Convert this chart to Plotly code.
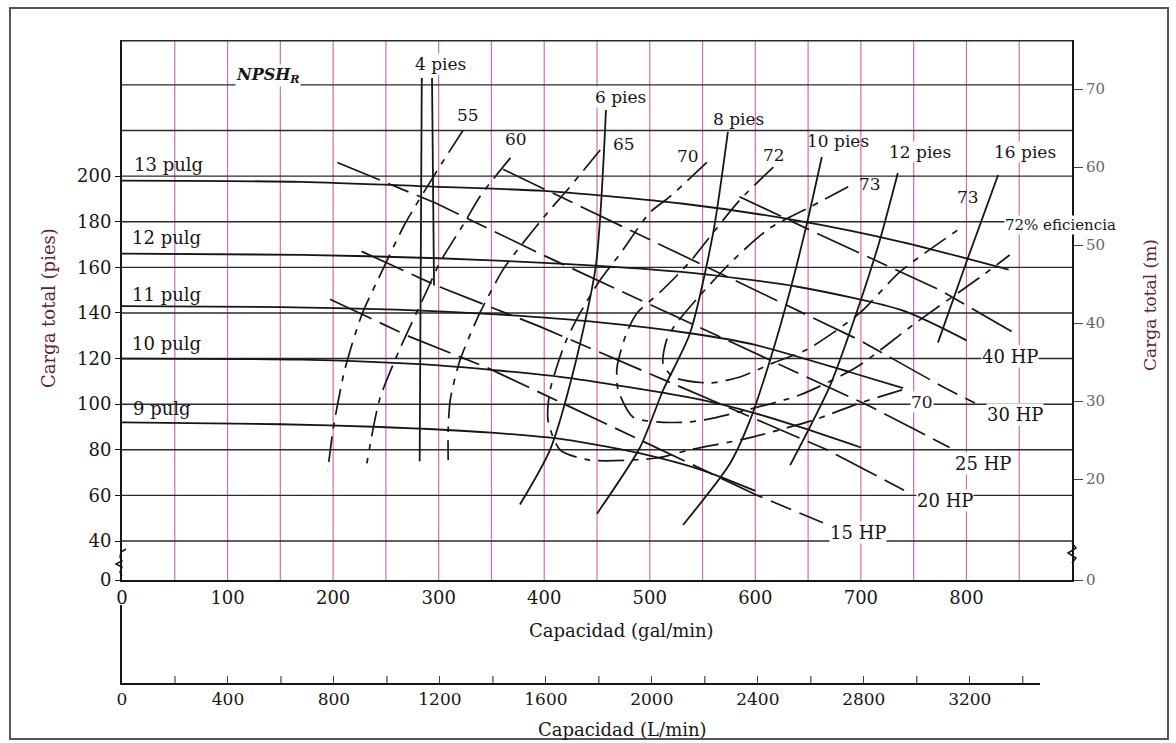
import plotly.graph_objects as go

# ---------------- data (capacity gal/min, head ft) ----------------
# Head-capacity curves, impeller diameters
q_13 = [0, 170, 290, 400, 530, 640, 740, 840]
h_13 = [198, 197.5, 195.5, 193.5, 188, 180.5, 171, 159]
q_12 = [0, 170, 300, 400, 530, 640, 740, 800]
h_12 = [166, 165.5, 164, 162, 158, 151.5, 141, 128]
q_11 = [0, 150, 260, 350, 450, 540, 600, 690, 740]
h_11 = [143, 142.6, 141.5, 139.5, 136, 131, 126, 114, 107]
q_10 = [0, 170, 300, 415, 480, 548, 600, 642, 700]
h_10 = [120, 119.5, 117, 112, 107.5, 102, 96, 90, 81]
q_9 = [0, 150, 245, 350, 420, 490, 550, 600]
h_9 = [92, 91.2, 90, 87.5, 84.5, 78.5, 71, 62]

# Power lines (HP)
q_40hp = [585, 658, 775, 846]
h_40hp = [191, 175, 150, 131]
q_30hp = [361, 415, 699, 778, 808]
h_30hp = [203, 191, 128, 107.5, 100.5]
q_25hp = [204, 298, 396, 709, 784]
h_25hp = [206, 188, 166, 99, 81]
q_20hp = [227, 298, 396, 668, 742]
h_20hp = [167, 152, 134, 80, 62]
q_15hp = [197, 273, 346, 602, 664]
h_15hp = [146, 129.5, 116, 60, 48]

# NPSH required lines (ft)
q_n4a = [284, 282]
h_n4a = [243, 75]
q_n4b = [293.7, 295.6]
h_n4b = [243, 152]
q_n6 = [458.5, 449, 429, 405.5, 377]
h_n6 = [229, 161, 117, 80, 56]
q_n8 = [574, 560, 538, 512.5, 490.7, 450]
h_n8 = [219.4, 175, 131, 106, 81, 52]
q_n10 = [663, 649, 633, 614, 595, 576, 531.5]
h_n10 = [208.4, 179.5, 150, 119.4, 93, 74, 47]
q_n12 = [735, 718, 699, 671, 633]
h_n12 = [201.4, 172, 144.4, 108.4, 73.3]
q_n16 = [830, 800.5, 773]
h_n16 = [200.5, 163, 127]

# Iso-efficiency curves (%)
q_e55 = [323, 298, 268, 247, 227, 211, 200, 195]
h_e55 = [220, 202, 179, 159, 139, 115, 89, 71]
q_e60 = [368, 339, 325, 301, 289, 263, 244, 232]
h_e60 = [208, 191, 180, 162, 150, 124, 102, 74]
q_e65 = [453, 422, 405, 377, 361, 339, 320, 311, 309, 309]
h_e65 = [211.5, 194, 185, 169, 159, 140, 119, 102, 89, 75.5]
q_e70 = [554, 519, 500, 472, 453, 434, 420, 405.5, 403.6, 415, 443, 507, 538, 592, 655, 699, 744]
h_e70 = [206, 191, 184, 166, 154.5, 140, 127, 106, 93, 80, 75.5, 76.4, 80, 85, 93, 100.5, 107]
q_e72 = [617, 585.5, 562, 538, 510, 488, 478, 469, 470, 484, 507, 538, 560, 592, 642, 696, 753, 816, 841]
h_e72 = [204, 189.6, 176.4, 162.4, 149.2, 140, 131.2, 116.3, 106.2, 94.4, 92.2, 92.2, 93.9, 97.5, 104, 116.3, 136, 156.7, 165.4]
q_e73 = [688, 652, 614, 579, 548, 524, 516, 512.5, 522, 557, 585.5, 617, 649, 699, 737, 796]
h_e73 = [195.3, 186.5, 177.3, 163.2, 147.9, 134.7, 128.2, 118.1, 111.9, 109.3, 111.9, 118.1, 124, 140, 158, 177.7]

# Axis ticks
gpm_ticks = [0, 100, 200, 300, 400, 500, 600, 700, 800]
ft_ticks = [40, 60, 80, 100, 120, 140, 160, 180, 200]
m_ticks = [20, 30, 40, 50, 60, 70]
lpm_ticks = [0, 400, 800, 1200, 1600, 2000, 2400, 2800, 3200]
lpm_minor = [200, 600, 1000, 1400, 1800, 2200, 2600, 3000, 3400]

# ---------------- layout geometry ----------------
W, H = 1176, 743
ML, MR, MT, MB = 122, 104, 40, 60
PW = W - ML - MR
PH = H - MT - MB
FT_BREAK = 22.9      # where the broken axis shows "0"
FT_TOP = 259.7
M_BREAK = 7.05
M_TOP = 76.3
SERIF = "DejaVu Serif"
INK = "#161616"
GRIDPINK = "#d26cb6"


def pp(px, py):
    return (px - ML) / PW, (H - MB - py) / PH


fig = go.Figure()


def curve(q, h, width=1.6, dash="solid", shape="spline"):
    fig.add_trace(go.Scatter(
        x=q, y=h, mode="lines", hoverinfo="skip", showlegend=False,
        line=dict(color=INK, width=width, dash=dash, shape=shape, smoothing=0.7)))


for q, h in [(q_13, h_13), (q_12, h_12), (q_11, h_11), (q_10, h_10), (q_9, h_9)]:
    curve(q, h, width=1.8)
for q, h in [(q_40hp, h_40hp), (q_30hp, h_30hp), (q_25hp, h_25hp), (q_20hp, h_20hp), (q_15hp, h_15hp)]:
    curve(q, h, width=1.7, dash="46px,9px,22px,9px", shape="linear")
for q, h in [(q_n4a, h_n4a), (q_n4b, h_n4b), (q_n6, h_n6), (q_n8, h_n8),
             (q_n10, h_n10), (q_n12, h_n12), (q_n16, h_n16)]:
    curve(q, h, width=1.8)
for q, h in [(q_e55, h_e55), (q_e60, h_e60), (q_e65, h_e65), (q_e70, h_e70),
             (q_e72, h_e72), (q_e73, h_e73)]:
    curve(q, h, width=1.7, dash="26px,8px,6px,8px")

# invisible helpers so the secondary axes are drawn
fig.add_trace(go.Scatter(x=[0], y=[M_BREAK], yaxis="y2", mode="markers",
                         marker=dict(opacity=0), hoverinfo="skip", showlegend=False))
fig.add_trace(go.Scatter(x=[0], y=[0], xaxis="x2", yaxis="y3", mode="markers",
                         marker=dict(opacity=0), hoverinfo="skip", showlegend=False))

# grid
shapes = []
for v in range(50, 900, 50):
    shapes.append(dict(type="line", xref="x", yref="y domain", x0=v, x1=v, y0=0, y1=1,
                       line=dict(color=GRIDPINK, width=1.2), layer="below"))
for v in range(40, 261, 20):
    shapes.append(dict(type="line", xref="x", yref="y", x0=0, x1=900, y0=min(v, FT_TOP - 0.3),
                       y1=min(v, FT_TOP - 0.3),
                       line=dict(color="#2a2a2a", width=1.4), layer="below"))

# minor ticks of the L/min scale
for v in lpm_minor:
    shapes.append(dict(type="line", xref="x2", yref="y3 domain", x0=v, x1=v, y0=0, y1=0.09,
                       line=dict(color="#444", width=1.2)))

# outer frame
fx0, fy0 = pp(10, 8)
fx1, fy1 = pp(1168, 739)
shapes.append(dict(type="rect", xref="paper", yref="paper", x0=fx0, x1=fx1, y0=fy1, y1=fy0,
                   line=dict(color="#555555", width=2)))


def polyline(points):
    s = ""
    for i, (a, b) in enumerate(points):
        x, y = pp(a, b)
        s += ("M" if i == 0 else "L") + f"{x:.5f},{y:.5f} "
    return s


shapes.append(dict(type="path", xref="paper", yref="paper",
                   path=polyline([(126, 549), (121, 552), (120, 557), (122, 561), (116, 564),
                                  (122, 567), (120, 572), (122, 576)]),
                   line=dict(color=INK, width=1.5)))
shapes.append(dict(type="path", xref="paper", yref="paper",
                   path=polyline([(1072, 543), (1076, 548), (1068, 553), (1076, 558), (1072, 563)]),
                   line=dict(color=INK, width=1.5)))

fig.update_layout(
    width=W, height=H,
    margin=dict(l=ML, r=MR, t=MT, b=MB, pad=0),
    paper_bgcolor="white", plot_bgcolor="white",
    showlegend=False,
    font=dict(family=SERIF, color=INK),
    shapes=shapes,
    xaxis=dict(range=[0, 900], domain=[0, 1], anchor="y",
               tickvals=gpm_ticks, ticktext=[str(v) for v in gpm_ticks],
               showgrid=False, zeroline=False, showline=True, linecolor=INK, linewidth=2,
               ticks="", tickfont=dict(family=SERIF, size=18, color=INK)),
    yaxis=dict(range=[FT_BREAK, FT_TOP], domain=[(H - MB - 580) / PH, 1], anchor="x",
               tickvals=[FT_BREAK] + ft_ticks, ticktext=["0"] + [str(v) for v in ft_ticks],
               showgrid=False, zeroline=False, showline=True, linecolor=INK, linewidth=2,
               ticks="outside", ticklen=5, tickcolor=INK,
               tickfont=dict(family=SERIF, size=18, color=INK)),
    yaxis2=dict(range=[M_BREAK, M_TOP], overlaying="y", side="right", anchor="x",
                tickvals=[M_BREAK] + m_ticks, ticktext=["0"] + [str(v) for v in m_ticks],
                showgrid=False, zeroline=False, showline=True, linecolor=INK, linewidth=2,
                ticks="outside", ticklen=9, tickcolor="#444",
                tickfont=dict(family=SERIF, size=15, color="#666")),
    xaxis2=dict(range=[0, 3464], domain=[0, 0.966], anchor="y3",
                tickvals=lpm_ticks, ticktext=[str(v) for v in lpm_ticks],
                showgrid=False, zeroline=False, showline=True, linecolor=INK, linewidth=2,
                ticks="inside", ticklen=7, tickcolor="#444",
                tickfont=dict(family=SERIF, size=17, color=INK)),
    yaxis3=dict(range=[0, 1], domain=[0, (H - MB - 605) / PH], anchor="x2",
                showgrid=False, zeroline=False, showline=True, linecolor=INK, linewidth=2,
                showticklabels=False, ticks=""),
)


def lab(text, px, py, size=17, bg=None, color=INK, **kw):
    x, y = pp(px, py)
    fig.add_annotation(text=text, x=x, y=y, xref="paper", yref="paper", showarrow=False,
                       xanchor="center", yanchor="middle",
                       font=dict(family=SERIF, size=size, color=color),
                       bgcolor=bg, borderpad=0, **kw)


# curve labels
lab("<b><i>NPSH<sub>R</sub></i></b>", 268, 75, size=16, bg="white")
lab("4 pies", 440, 64, bg="white")
lab("55", 468, 115, bg="white")
lab("60", 516, 139)
lab("6 pies", 620, 97, bg="white")
lab("65", 624, 144)
lab("8 pies", 738, 119)
lab("70", 688, 156)
lab("72", 774, 155)
lab("10 pies", 838, 141)
lab("73", 870, 184)
lab("12 pies", 920, 152, bg="white")
lab("16 pies", 1025, 152, bg="white")
lab("73", 968, 197)
lab("72% eficiencia", 1060, 225, size=15, bg="white")
lab("40 HP", 1010, 356, size=18, bg="white")
lab("70", 922, 402, bg="white")
lab("30 HP", 1015, 414, size=18, bg="white")
lab("25 HP", 983, 463, size=18, bg="white")
lab("20 HP", 945, 500, size=18, bg="white")
lab("15 HP", 858, 532, size=18, bg="white")
lab("13 pulg", 168, 164, size=18)
lab("12 pulg", 166, 237, size=18)
lab("11 pulg", 166, 294, size=18)
lab("10 pulg", 166, 343, size=18)
lab("9 pulg", 162, 408, size=18)

# axis titles
lab("Capacidad (gal/min)", 621, 630, size=18)
lab("Capacidad (L/min)", 622, 729, size=18)
lab("Carga total (pies)", 48, 308, size=18, textangle=-90, color="#5b2333")
lab("Carga total (m)", 1150, 305, size=17, textangle=-90, color="#5b2333")

fig.write_html("out.html")
